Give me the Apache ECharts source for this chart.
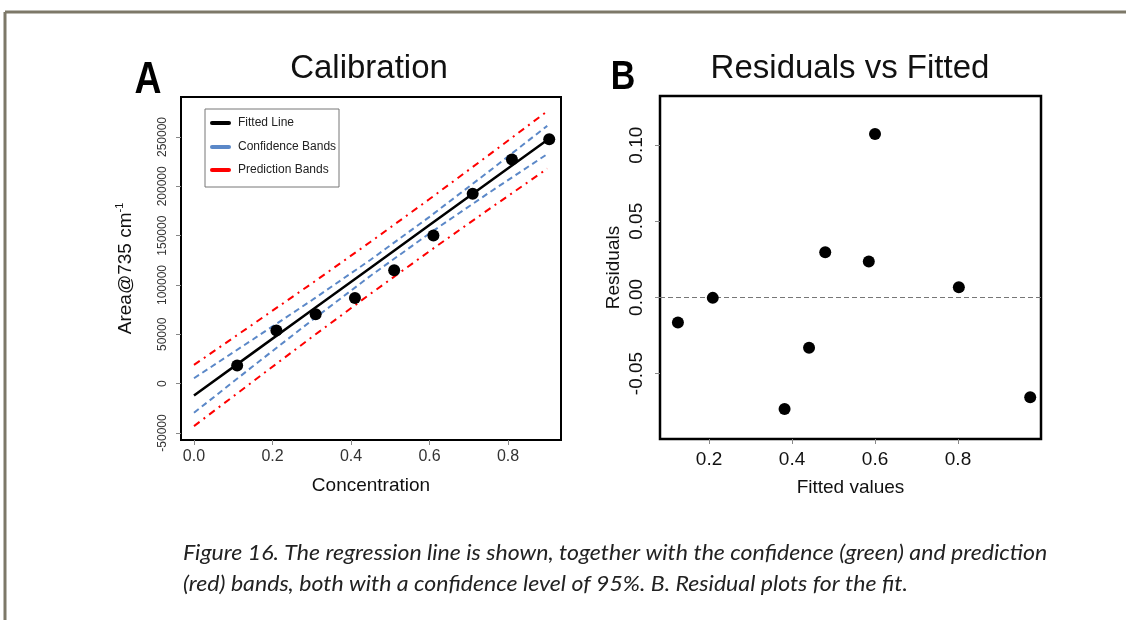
<!DOCTYPE html>
<html>
<head>
<meta charset="utf-8">
<script src="https://cdn.jsdelivr.net/npm/echarts@6/dist/echarts.min.js"></script>
<style>
  html, body { margin: 0; padding: 0; background: #ffffff; }
  #chart { width: 1126px; height: 620px; }
</style>
</head>
<body>
<div id="chart"></div>
<script>
// Calibration panel: standards, fitted line and 95% bands
const concentration = [0.11, 0.21, 0.31, 0.41, 0.51, 0.61, 0.71, 0.81, 0.905];
const area = [18300, 54000, 70300, 86900, 114900, 150100, 192400, 227200, 247600];

const bandX = [0, 0.15, 0.3, 0.45, 0.6, 0.75, 0.9];
const fitLine = [-12000, 31200, 74300, 117500, 160700, 203900, 247000];
const confUpper = [5500, 44800, 84500, 125600, 169100, 214700, 261300];
const confLower = [-29500, 17600, 64100, 109400, 152300, 193100, 232700];
const predUpper = [19000, 60200, 101500, 143800, 187100, 231400, 276100];
const predLower = [-43000, 2200, 47100, 91200, 134300, 176400, 217900];

// Residuals panel
const fitted = [0.125, 0.209, 0.382, 0.441, 0.48, 0.585, 0.6, 0.802, 0.974];
const residuals = [-0.0164, -0.0003, -0.0733, -0.0331, 0.0297, 0.0236, 0.1073, 0.0066, -0.0656];

// Tick labels
const concTicks = [0, 0.2, 0.4, 0.6, 0.8];
const areaTicks = [-50000, 0, 50000, 100000, 150000, 200000, 250000];
const fittedTicks = [0.2, 0.4, 0.6, 0.8];
const residTicks = [-0.05, 0, 0.05, 0.10];

const legendItems = ['Fitted Line', 'Confidence Bands', 'Prediction Bands'];
const captionLines = [
  'Figure 16. The regression line is shown, together with the confidence (green) and prediction',
  '(red) bands, both with a confidence level of 95%. B. Residual plots for the fit.'
];

const FONT = 'Liberation Sans, Arial, sans-serif';
const CAPTION_FONT = 'italic 21px Lato, "Open Sans", sans-serif';
const BLUE = '#5b88c8';
const RED = '#ff0000';

const pairs = (xs, ys) => xs.map((x, i) => [x, ys[i]]);

const chart = echarts.init(document.getElementById('chart'), null, { renderer: 'canvas' });

const bandLine = (name, ys, color, dash, width) => ({
  name, type: 'line', xAxisIndex: 0, yAxisIndex: 0,
  data: pairs(bandX, ys), showSymbol: false, symbol: 'none',
  lineStyle: { color, width, type: dash }, z: 3, silent: true
});

const hiddenLine = { show: false, onZero: false };

chart.setOption({
  animation: false,
  backgroundColor: '#ffffff',
  textStyle: { fontFamily: FONT },
  grid: [
    { left: 181, top: 97, width: 380, height: 343, show: true, borderColor: '#000', borderWidth: 2, backgroundColor: 'transparent' },
    { left: 660, top: 96, width: 381, height: 343, show: true, borderColor: '#000', borderWidth: 2.5, backgroundColor: 'transparent' }
  ],
  xAxis: [
    {
      type: 'value', gridIndex: 0, min: -0.0331, max: 0.935,
      axisLine: hiddenLine, splitLine: { show: false },
      axisTick: { show: true, customValues: concTicks, length: 5, lineStyle: { color: '#888', width: 1 } },
      axisLabel: { customValues: concTicks, formatter: v => v.toFixed(1), fontSize: 16, color: '#333', margin: 9, fontFamily: FONT },
      name: 'Concentration', nameLocation: 'middle', nameGap: 36,
      nameTextStyle: { fontSize: 19, color: '#111', fontFamily: FONT }
    },
    {
      type: 'value', gridIndex: 1, min: 0.0818, max: 1.0,
      axisLine: hiddenLine, splitLine: { show: false },
      axisTick: { show: true, customValues: fittedTicks, length: 5, lineStyle: { color: '#888', width: 1 } },
      axisLabel: { customValues: fittedTicks, formatter: v => v.toFixed(1), fontSize: 19, color: '#111', margin: 11, fontFamily: FONT },
      name: 'Fitted values', nameLocation: 'middle', nameGap: 39,
      nameTextStyle: { fontSize: 19, color: '#111', fontFamily: FONT }
    }
  ],
  yAxis: [
    {
      type: 'value', gridIndex: 0, min: -57095, max: 290540,
      axisLine: hiddenLine, splitLine: { show: false },
      axisTick: { show: true, customValues: areaTicks, length: 5, lineStyle: { color: '#888', width: 1 } },
      axisLabel: { customValues: areaTicks, formatter: v => String(v), rotate: 90, fontSize: 12, color: '#333', margin: 12, fontFamily: FONT },
      name: '{n|Area@735 cm}{s|-1}', nameLocation: 'middle', nameGap: 43,
      nameTextStyle: {
        fontFamily: FONT,
        rich: {
          n: { fontSize: 19, color: '#111', fontFamily: FONT, lineHeight: 24 },
          s: { fontSize: 11, color: '#111', fontFamily: FONT, verticalAlign: 'top', lineHeight: 24 }
        }
      }
    },
    {
      type: 'value', gridIndex: 1, min: -0.093, max: 0.1323,
      axisLine: hiddenLine, splitLine: { show: false },
      axisTick: { show: true, customValues: residTicks, length: 5, lineStyle: { color: '#888', width: 1 } },
      axisLabel: { customValues: residTicks, formatter: v => v.toFixed(2), rotate: 90, fontSize: 19, color: '#111', margin: 14, fontFamily: FONT },
      name: 'Residuals', nameLocation: 'middle', nameGap: 37,
      nameTextStyle: { fontSize: 19, color: '#111', fontFamily: FONT }
    }
  ],
  series: [
    bandLine('Prediction upper', predUpper, RED, [7, 5, 2, 5], 2),
    bandLine('Prediction lower', predLower, RED, [7, 5, 2, 5], 2),
    bandLine('Confidence upper', confUpper, BLUE, [6, 4], 2),
    bandLine('Confidence lower', confLower, BLUE, [6, 4], 2),
    {
      name: 'Fitted Line', type: 'line', xAxisIndex: 0, yAxisIndex: 0,
      data: pairs(bandX, fitLine), showSymbol: false, symbol: 'none',
      lineStyle: { color: '#000', width: 2.5 }, z: 4, silent: true
    },
    {
      name: 'Standards', type: 'scatter', xAxisIndex: 0, yAxisIndex: 0,
      data: pairs(concentration, area), symbol: 'circle', symbolSize: 12,
      itemStyle: { color: '#000', opacity: 1 }, z: 5, silent: true
    },
    {
      name: 'Residuals', type: 'scatter', xAxisIndex: 1, yAxisIndex: 1,
      data: pairs(fitted, residuals), symbol: 'circle', symbolSize: 12,
      itemStyle: { color: '#000', opacity: 1 }, z: 5, silent: true,
      markLine: {
        silent: true, symbol: 'none', label: { show: false },
        lineStyle: { color: '#777', width: 1, type: [5, 3] },
        data: [{ yAxis: 0 }]
      }
    }
  ],
  graphic: [
    // page frame
    { type: 'line', shape: { x1: 5, y1: 12, x2: 1126, y2: 12 }, style: { stroke: '#7d7868', lineWidth: 3 } },
    { type: 'line', shape: { x1: 5, y1: 12, x2: 5, y2: 620 }, style: { stroke: '#7d7868', lineWidth: 3 } },
    // panel titles and letters
    { type: 'text', x: 369, y: 69, style: { text: 'Calibration', font: '33px ' + FONT, fill: '#111', align: 'center', verticalAlign: 'middle' } },
    { type: 'text', x: 850, y: 69, style: { text: 'Residuals vs Fitted', font: '33px ' + FONT, fill: '#111', align: 'center', verticalAlign: 'middle' } },
    { type: 'text', x: 148, y: 81, scaleX: 0.85, style: { text: 'A', font: 'bold 44px ' + FONT, fill: '#000', align: 'center', verticalAlign: 'middle' } },
    { type: 'text', x: 623, y: 78, scaleX: 0.85, style: { text: 'B', font: 'bold 40px ' + FONT, fill: '#000', align: 'center', verticalAlign: 'middle' } },
    // legend box
    { type: 'rect', shape: { x: 205, y: 109, width: 134, height: 78 }, style: { fill: '#fff', stroke: '#777', lineWidth: 1 }, z: 10 },
    { type: 'line', shape: { x1: 212, y1: 123, x2: 229, y2: 123 }, style: { stroke: '#000', lineWidth: 4, lineCap: 'round' }, z: 11 },
    { type: 'line', shape: { x1: 212, y1: 147, x2: 229, y2: 147 }, style: { stroke: BLUE, lineWidth: 4, lineCap: 'round' }, z: 11 },
    { type: 'line', shape: { x1: 212, y1: 170, x2: 229, y2: 170 }, style: { stroke: RED, lineWidth: 4, lineCap: 'round' }, z: 11 },
    { type: 'text', x: 238, y: 123, style: { text: legendItems[0], font: '12px ' + FONT, fill: '#222', verticalAlign: 'middle' }, z: 11 },
    { type: 'text', x: 238, y: 147, style: { text: legendItems[1], font: '12px ' + FONT, fill: '#222', verticalAlign: 'middle' }, z: 11 },
    { type: 'text', x: 238, y: 170, style: { text: legendItems[2], font: '12px ' + FONT, fill: '#222', verticalAlign: 'middle' }, z: 11 },
    // caption
    { type: 'text', x: 183, y: 553, scaleX: 1.1, style: { text: captionLines[0], font: CAPTION_FONT, fill: '#222', verticalAlign: 'middle' } },
    { type: 'text', x: 183, y: 584, scaleX: 1.1, style: { text: captionLines[1], font: CAPTION_FONT, fill: '#222', verticalAlign: 'middle' } }
  ]
});
</script>
</body>
</html>
